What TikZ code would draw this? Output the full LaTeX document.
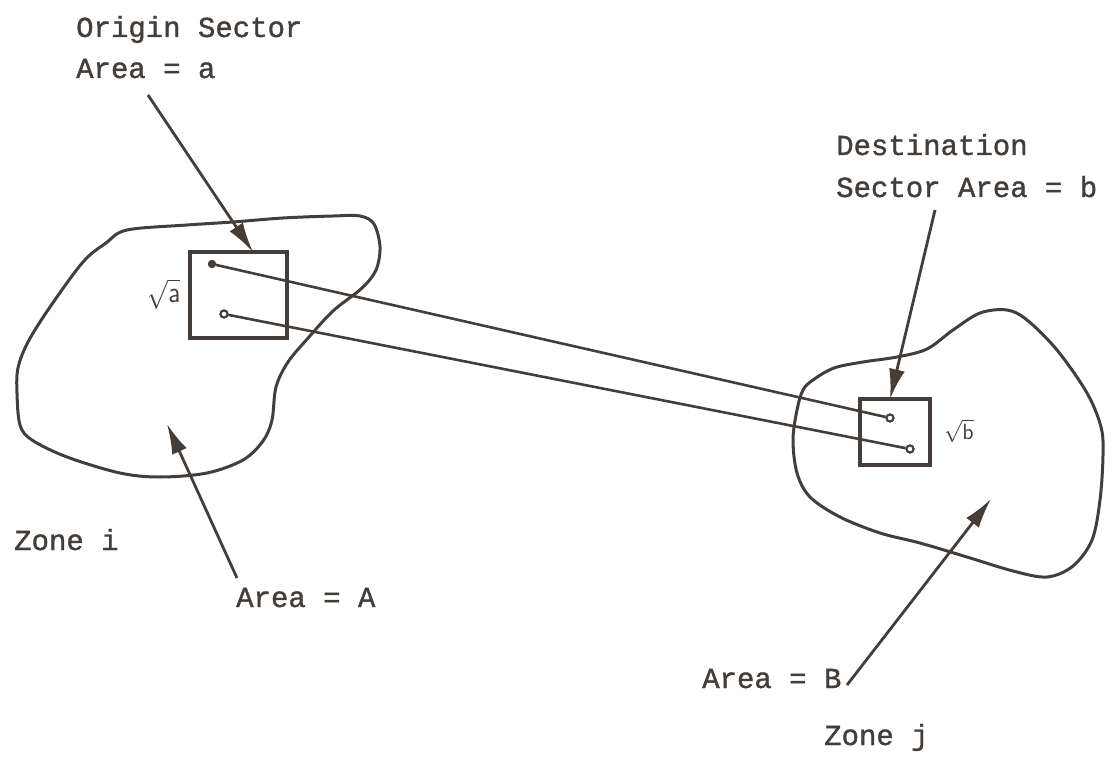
\documentclass[tikz,border=0pt]{standalone}
\usepackage{fontspec}
\newfontfamily\tw[FakeBold=1.2]{Liberation Mono}
\usetikzlibrary{arrows.meta}
\definecolor{ink}{RGB}{68,62,58}
\tikzset{
  lbl/.style={font=\tw\fontsize{29}{35}\selectfont, text=ink, inner sep=0pt, anchor=base west},
  rt/.style={text=ink, inner sep=0pt},
  zone/.style={draw=ink, line width=3pt, line join=round},
  sector/.style={draw=ink, line width=4pt, inner sep=0pt},
  link/.style={draw=ink, line width=2.6pt},
  pin/.style={-{Latex[length=30pt,width=16pt]}, draw=ink, fill=ink, line width=2.8pt},
  dotf/.style={circle, fill=ink, draw=ink, line width=1pt, minimum size=7pt, inner sep=0pt},
  doto/.style={circle, fill=white, draw=ink, line width=2pt, minimum size=7pt, inner sep=0pt}
}
\begin{document}
\begin{tikzpicture}[x=1pt, y=-1pt]
\useasboundingbox (0,0) rectangle (1113,759);

% zone i outline
\draw[zone] plot[smooth cycle, tension=0.55] coordinates {
  (127,230) (187,225) (233,222) (283,218) (333,216) (360,216) (374,224)
  (380,247) (376,270) (362,288) (333,311) (309,337) (288,362) (276,387)
  (272,420) (263,441) (243,460) (207,473) (160,477) (120,473) (67,457)
  (32,440) (20,425) (17,393) (18,368) (28,342) (50,307) (83,262) (106,243)};

% zone j outline
\draw[zone] plot[smooth cycle, tension=0.55] coordinates {
  (813,380) (834,368) (863,362) (897,357) (927,349) (953,330) (980,313)
  (1007,310) (1027,320) (1057,350) (1087,393) (1101,427) (1103,455)
  (1100,500) (1092,540) (1073,566) (1047,577) (1013,571) (967,557)
  (920,543) (880,533) (840,517) (810,497) (797,473) (793,440) (797,410)
  (803,390)};

% sector squares
\node[sector, minimum width=97pt, minimum height=86pt] (sa) at (238.5,295) {};
\node[sector, minimum width=70pt, minimum height=66pt] (sb) at (895,432) {};

\node[rt] (ra) at (164,294) {\scalebox{2.5}[2.9]{$\sqrt{\mathsf{a}}$}};
\node[rt] (rb) at (959,431) {\scalebox{2.2}[2.2]{$\sqrt{\mathsf{b}}$}};

% trip end points and the links between them
\node[dotf] (o1) at (212,264) {};
\node[doto] (o2) at (224,314) {};
\node[doto] (d1) at (890,418) {};
\node[doto] (d2) at (910,449) {};
\draw[link] (o1) -- (d1);
\draw[link] (o2) -- (d2);
\node[dotf] at (o1) {};
\node[doto] at (o2) {};
\node[doto] at (d1) {};
\node[doto] at (d2) {};

% labels
\node[lbl] (t1) at (76,37) {Origin Sector};
\node[lbl] (t2) at (76,78) {Area = a};
\node[lbl] (t3) at (836,155) {Destination};
\node[lbl] (t4) at (836,197) {Sector Area = b};
\node[lbl] (t5) at (14,550) {Zone i};
\node[lbl] (t6) at (236,607) {Area = A};
\node[lbl] (t7) at (702,688) {Area = B};
\node[lbl] (t8) at (824,745) {Zone j};

% pointers
\coordinate (pa0) at (148,95);
\coordinate (pa1) at (253,252);
\draw[pin] (pa0) -- (pa1);
\coordinate (pb0) at (935,210);
\coordinate (pb1) at (890,399);
\draw[pin] (pb0) -- (pb1);
\coordinate (pc0) at (237,578);
\coordinate (pc1) at (167,424);
\draw[pin] (pc0) -- (pc1);
\coordinate (pd0) at (847,685);
\coordinate (pd1) at (991,499);
\draw[pin] (pd0) -- (pd1);
\end{tikzpicture}
\end{document}
